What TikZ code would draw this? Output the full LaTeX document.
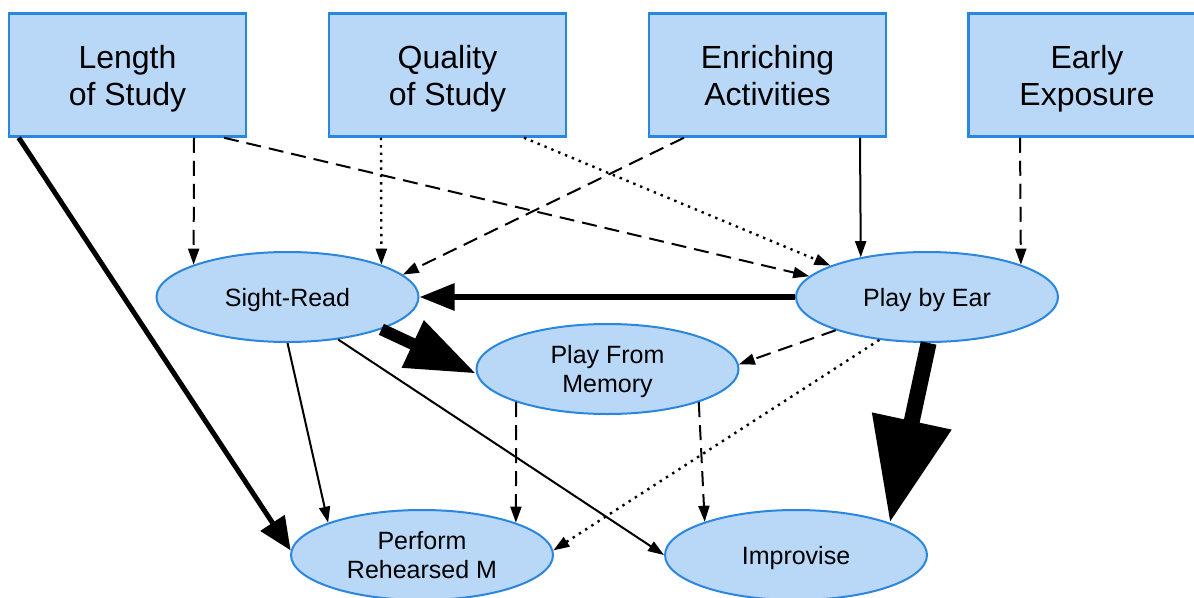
\documentclass[tikz,border=0pt]{standalone}
\usepackage{fontspec}
\setmainfont{Liberation Sans}
\usetikzlibrary{shapes.geometric,arrows.meta}
\definecolor{boxfill}{RGB}{185,215,246}
\definecolor{boxline}{RGB}{42,134,222}

\begin{document}
\begin{tikzpicture}[x=1pt,y=-1pt]
\tikzstyle{every node}+=[inner sep=0pt]
\tikzstyle{factor}=[draw=boxline,fill=boxfill,line width=2.5pt,minimum width=237pt,minimum height=123pt,align=center,text height=61pt,text depth=0pt,font=\fontsize{32}{37.5}\selectfont]
\tikzstyle{skill}=[ellipse,draw=boxline,fill=boxfill,line width=2pt,minimum width=262pt,minimum height=90pt,align=center,text height=19.5pt,text depth=0pt,font=\fontsize{25}{29.5}\selectfont]
\tikzstyle{twoline}=[text height=47.5pt]
\tikzstyle{link}=[line width=2pt,-{Triangle[length=16pt,width=11pt]}]
\tikzstyle{dashedlink}=[link,dash pattern=on 15pt off 8pt]
\tikzstyle{dottedlink}=[link,line width=2.4pt,dash pattern=on 2.4pt off 5pt]
\useasboundingbox (0,0) rectangle (1194,597);
\node [factor] (len) at (127.5,75) {Length\\of Study};
\node [factor] (qual) at (447.5,75) {Quality\\of Study};
\node [factor] (enr) at (767.5,75) {Enriching\\Activities};
\node [factor] (early) at (1087,75) {Early\\Exposure};
\node [skill] (sr) at (287.5,297) {Sight-Read};
\node [skill] (pbe) at (927,297) {Play by Ear};
\node [skill,twoline] (mem) at (607.5,369) {Play From\\Memory};
\node [skill,twoline] (perf) at (422,555) {Perform\\Rehearsed M};
\node [skill] (imp) at (796,555) {Improvise};
\draw [link,line width=5pt,-{Triangle[length=33pt,width=28pt]}] ([xshift=11pt]len.south west) -- (perf.178);
\draw [dashedlink] ([xshift=66.5pt]len.south) -- (sr.161);
\draw [dashedlink] ([xshift=96.5pt]len.south) -- (pbe.170);
\draw [dottedlink] ([xshift=-66.5pt]qual.south) -- (sr.19);
\draw [dottedlink] ([xshift=76.5pt]qual.south) -- (pbe.162);
\draw [dashedlink] ([xshift=-83.5pt]enr.south) -- (sr.11);
\draw [link] ([xshift=92.5pt]enr.south) -- (pbe.149);
\draw [dashedlink] ([xshift=-67pt]early.south) -- (pbe.19);
\draw [link,line width=6pt,-{Triangle[length=35pt,width=26pt]}] (pbe.west) -- (sr.east);
\draw [link,line width=12pt,-{Triangle[length=70pt,width=49pt]}] (sr.-19) -- (mem.182);
\draw [dashedlink] (pbe.200) -- (mem.2);
\draw [link,line width=16pt,-{Triangle[length=104pt,width=77pt]}] (pbe.272) -- (imp.19);
\draw [dottedlink] (pbe.222) -- (perf.2);
\draw [link] (sr.south) -- (perf.161);
\draw [link] (sr.-40) -- (imp.west);
\draw [dashedlink] (mem.200) -- (perf.19);
\draw [dashedlink] (mem.-20) -- (imp.160);
\end{tikzpicture}
\end{document}
